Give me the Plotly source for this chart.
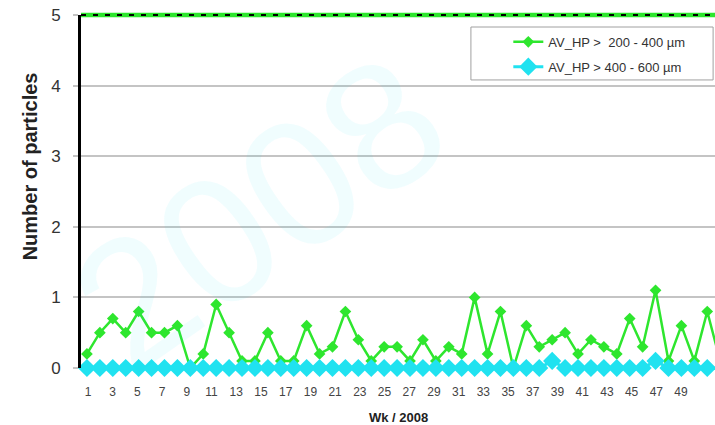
import plotly.graph_objects as go

# ---- data ----
series_green_name = "AV_HP >\u00a0 200 - 400 µm"
series_cyan_name = "AV_HP > 400 - 600 µm"

green_values = [0.2, 0.5, 0.7, 0.5, 0.8, 0.5, 0.5, 0.6, 0.0, 0.2,
                0.9, 0.5, 0.1, 0.1, 0.5, 0.1, 0.1, 0.6, 0.2, 0.3,
                0.8, 0.4, 0.1, 0.3, 0.3, 0.1, 0.4, 0.1, 0.3, 0.2,
                1.0, 0.2, 0.8, 0.0, 0.6, 0.3, 0.4, 0.5, 0.2, 0.4,
                0.3, 0.2, 0.7, 0.3, 1.1, 0.1, 0.6, 0.1, 0.8, 0.1]
cyan_values = [0.0, 0.0, 0.0, 0.0, 0.0, 0.0, 0.0, 0.0, 0.0, 0.0,
               0.0, 0.0, 0.0, 0.0, 0.0, 0.0, 0.0, 0.0, 0.0, 0.0,
               0.0, 0.0, 0.0, 0.0, 0.0, 0.0, 0.0, 0.0, 0.0, 0.0,
               0.0, 0.0, 0.0, 0.0, 0.0, 0.0, 0.1, 0.0, 0.0, 0.0,
               0.0, 0.0, 0.0, 0.0, 0.1, 0.0, 0.0, 0.0, 0.0, 0.0]
week_ticks = [1, 3, 5, 7, 9, 11, 13, 15, 17, 19, 21, 23, 25,
              27, 29, 31, 33, 35, 37, 39, 41, 43, 45, 47, 49]
y_ticks = [0, 1, 2, 3, 4, 5]

x_title = "Wk / 2008"
y_title = "Number of particles"
watermark = "2008"

GREEN = "#2ee62e"
CYAN = "#20e2f0"
FONT = "Arial, Liberation Sans, sans-serif"

point_pos = list(range(len(green_values)))

fig = go.Figure()
fig.add_trace(go.Scatter(
    x=point_pos, y=green_values, name=series_green_name,
    mode="lines+markers", line=dict(color=GREEN, width=2.5),
    marker=dict(symbol="diamond", size=9, color=GREEN),
    cliponaxis=False, legendgroup="g1"))
fig.add_trace(go.Scatter(
    x=point_pos, y=cyan_values, name=series_cyan_name,
    mode="lines+markers", line=dict(color=CYAN, width=3),
    marker=dict(symbol="diamond", size=14, color=CYAN),
    cliponaxis=False, legendgroup="g2"))
# carrier for the week-label axis
fig.add_trace(go.Scatter(x=week_ticks, y=[None] * len(week_ticks), xaxis="x2",
                         showlegend=False, hoverinfo="skip", mode="markers"))

fig.update_layout(
    width=715, height=425,
    margin=dict(l=81, r=0, t=15, b=57, autoexpand=False),
    paper_bgcolor="white", plot_bgcolor="white",
    font=dict(family=FONT, color="#333333"),
    xaxis=dict(range=[-0.46, 48.6], showgrid=False, zeroline=False,
               showline=False, showticklabels=False, ticks=""),
    xaxis2=dict(overlaying="x", anchor="y", side="bottom",
                range=[0.433, 51.75], tickmode="array",
                tickvals=week_ticks, ticktext=[str(w) for w in week_ticks],
                showgrid=False, zeroline=False, showline=False, ticks="",
                tickfont=dict(size=12, color="#444444", family=FONT),
                ticklabelstandoff=15),
    yaxis=dict(range=[0, 5], tickmode="array", tickvals=y_ticks,
               showgrid=True, gridcolor="#c4c4c4", gridwidth=1.5,
               zeroline=False, showline=True, linecolor="black", linewidth=3,
               ticks="outside", ticklen=5, tickcolor="#c4c4c4", tickwidth=1.5,
               tickfont=dict(size=17, color="#333333", family=FONT),
               ticklabelstandoff=9),
    legend=dict(x=0.674, xanchor="left", y=0.9665, yanchor="top",
                bgcolor="rgba(0,0,0,0)", borderwidth=0,
                font=dict(size=13, color="#333333", family=FONT),
                traceorder="grouped", tracegroupgap=5),
    showlegend=True,
)

# legend frame
fig.add_shape(type="rect", xref="paper", yref="paper",
              x0=0.615, x1=0.997, y0=0.816, y1=0.966,
              line=dict(color="#a0a0a0", width=1), fillcolor="white", layer="below")
# top border line at y = 5 (green with black dashes)
fig.add_shape(type="line", xref="paper", yref="paper", x0=0, x1=1, y0=1, y1=1,
              line=dict(color=GREEN, width=4.5))
fig.add_shape(type="line", xref="paper", yref="paper", x0=0, x1=1, y0=1, y1=1,
              line=dict(color="black", width=2, dash="5px,7px"))

fig.add_annotation(text=watermark, xref="paper", yref="paper", x=0.28, y=0.44,
                   xanchor="center", yanchor="middle",
                   showarrow=False, textangle=-35,
                   font=dict(size=180, family=FONT, color="rgba(0,215,235,0.06)"))
fig.add_annotation(text="<b>%s</b>" % y_title, xref="paper", yref="paper",
                   x=-0.080, y=0.572, xanchor="center", yanchor="middle",
                   textangle=-90, showarrow=False,
                   font=dict(size=20, color="#222222", family=FONT))
fig.add_annotation(text="<b>%s</b>" % x_title, xref="paper", yref="paper",
                   x=0.5, y=-0.139, xanchor="center", yanchor="middle",
                   showarrow=False, font=dict(size=13, color="#222222", family=FONT))

fig.write_html("out.html", config={"displayModeBar": False},
               post_script="document.body.style.margin='0px';")
